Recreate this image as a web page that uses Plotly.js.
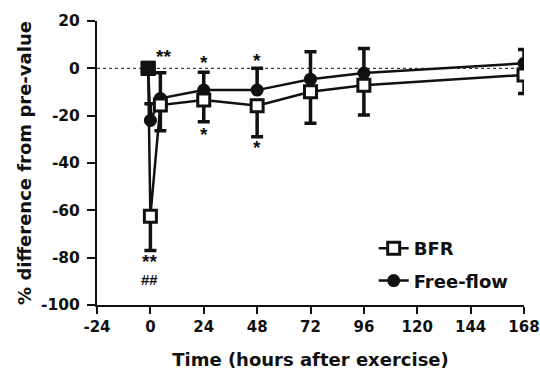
<!DOCTYPE html>
<html>
<head>
<meta charset="utf-8">
<script src="https://cdn.plot.ly/plotly-3.0.1.min.js"></script>
<style>html,body{margin:0;padding:0;background:#fff;}#chart{width:540px;height:370px;}</style>
</head>
<body>
<div id="chart"></div>
<script>
// Time points (hours after exercise)
const timesBFR = [-1, 0, 4.5, 24, 48, 72, 96, 168];
const timesFF  = [-1, 0, 4.5, 24, 48, 72, 96, 168];
// % difference from pre-value
const bfrValues = [0, -62.5, -15.5, -13.4, -15.8, -9.9, -7.1, -2.8];
const bfrErrLow = [0, 14.5, 10.9, 9.2, 13.1, 13.3, 12.6, 7.8];
const ffValues  = [0, -22, -12.7, -9.2, -9.2, -4.6, -2, 2.1];
const ffErrHigh = [0, 7, 10.8, 7.5, 9.2, 11.6, 10.4, 5.9];
// significance marks
const sigText = ["**", "*", "*", "*", "*", "**", "##"];
const sigX    = [6, 24, 24, 48, 48, -0.5, -0.5];
const sigY    = [5.2, 2.4, -27.9, 3.5, -33.4, -81.8, -89.3];
const sigSize = [19, 19, 19, 19, 19, 19, 15];
const xTicks = [-24, 0, 24, 48, 72, 96, 120, 144, 168];
const yTicks = [-100, -80, -60, -40, -20, 0, 20];

const FONT = "Liberation Sans, Arial, Helvetica, sans-serif";
const WIDE = "DejaVu Sans, Liberation Sans, Arial, sans-serif";
const zeros = bfrValues.map(() => 0);

const traces = [
  {
    x: timesFF, y: ffValues, name: "Free-flow", type: "scatter", mode: "lines+markers",
    legendgroup: "ff",
    line: {color: "#111", width: 2.5},
    marker: {symbol: "circle", size: 13, color: "#111", line: {width: 0}},
    error_y: {type: "data", symmetric: false, array: ffErrHigh, arrayminus: zeros,
              color: "#111", thickness: 3.5, width: 6},
    legendrank: 2
  },
  {
    x: timesBFR, y: bfrValues, name: "BFR", type: "scatter", mode: "lines+markers",
    legendgroup: "bfr",
    line: {color: "#111", width: 2.5},
    marker: {symbol: "square", size: 12, color: "#fff", line: {color: "#111", width: 3}},
    error_y: {type: "data", symmetric: false, array: zeros, arrayminus: bfrErrLow,
              color: "#111", thickness: 3.5, width: 6},
    legendrank: 1
  },
  {
    // pre-value point (shared baseline), drawn filled
    x: timesBFR.slice(0, 1), y: bfrValues.slice(0, 1), type: "scatter", mode: "markers",
    showlegend: false,
    marker: {symbol: "square", size: 14, color: "#111", line: {color: "#111", width: 1}}
  }
];

const annotations = sigText.map((t, i) => ({
  x: sigX[i], y: sigY[i], xref: "x", yref: "y", text: t, showarrow: false,
  font: {family: FONT, size: sigSize[i], color: "#111", weight: "bold"}
}));

const layout = {
  width: 540, height: 370,
  margin: {l: 97, r: 16, t: 21, b: 65},
  paper_bgcolor: "#fff", plot_bgcolor: "#fff",
  font: {family: WIDE, color: "#111"},
  showlegend: true,
  legend: {x: 0.648, y: 0.264, xanchor: "left", yanchor: "top", bgcolor: "rgba(0,0,0,0)",
           font: {family: WIDE, size: 18, weight: "bold", color: "#111"},
           traceorder: "grouped", tracegroupgap: 6},
  xaxis: {
    range: [-24, 168], tickvals: xTicks, ticktext: xTicks.map(String),
    showgrid: false, zeroline: false, showline: true, linecolor: "#111", linewidth: 2,
    ticks: "outside", ticklen: 7, tickwidth: 2, tickcolor: "#111",
    ticklabeloverflow: "allow",
    tickfont: {family: WIDE, size: 15, weight: "bold", color: "#111"},
    title: {text: "Time (hours after exercise)", font: {family: WIDE, size: 18, weight: "bold", color: "#111"}, standoff: 19}
  },
  yaxis: {
    range: [-100, 20], tickvals: yTicks, ticktext: yTicks.map(String),
    showgrid: false, zeroline: false, showline: true, linecolor: "#111", linewidth: 2,
    ticks: "outside", ticklen: 8, tickwidth: 2, tickcolor: "#111",
    ticklabelstandoff: 4,
    tickfont: {family: WIDE, size: 15.5, weight: "bold", color: "#111"},
    title: {text: "% difference from pre-value", font: {family: WIDE, size: 18, weight: "bold", color: "#111"}, standoff: 5}
  },
  shapes: [{type: "line", xref: "x", yref: "y", x0: -24, x1: 168, y0: 0, y1: 0,
            line: {color: "#111", width: 1, dash: "dot"}, layer: "below"}],
  annotations: annotations
};

Plotly.newPlot("chart", traces, layout, {staticPlot: true, displayModeBar: false});
</script>
</body>
</html>
